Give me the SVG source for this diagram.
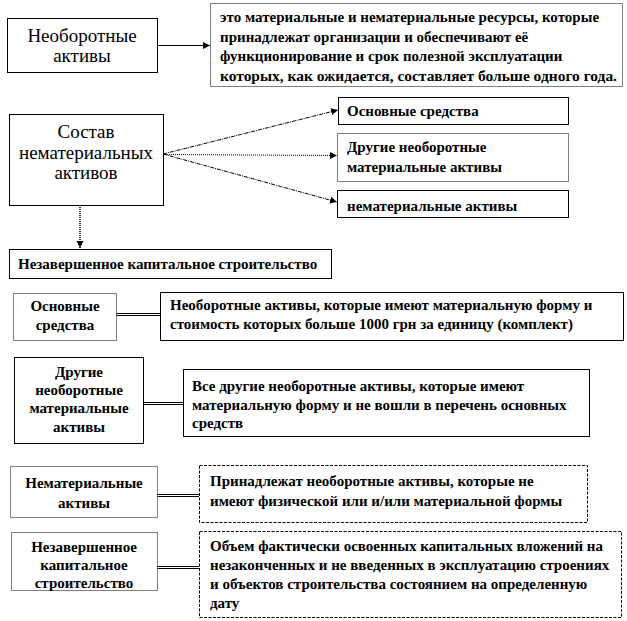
<svg xmlns="http://www.w3.org/2000/svg" width="627" height="621" viewBox="0 0 627 621">
<style>
.box{fill:#fff;stroke:#000;stroke-width:1}
.dot{stroke-dasharray:1,1}
.dash{stroke-dasharray:3,1.5}
.big{font-family:"Liberation Serif","Times New Roman","DejaVu Serif",serif;font-size:19px;fill:#000}
.t{font-family:"Liberation Serif","Times New Roman","DejaVu Serif",serif;font-size:15px;font-weight:bold;fill:#000}
.c{text-anchor:middle}
.ln{stroke:#000;stroke-width:1;fill:none}
.dbl{stroke:#000;stroke-width:3;fill:none}
.dblin{stroke:#fff;stroke-width:1;fill:none}
</style>
<defs>
<marker id="ah" markerWidth="8" markerHeight="8" refX="7" refY="4" orient="auto" markerUnits="userSpaceOnUse">
<path d="M0,0.5 L7,4 L0,7.5 Z" fill="#000"/>
</marker>
</defs>
<rect width="627" height="621" fill="#fff"/>

<g id="connectors">
<line class="ln" x1="157" y1="45.5" x2="210" y2="45.5" marker-end="url(#ah)"/>
<line class="ln" x1="163" y1="154" x2="338" y2="110" stroke-dasharray="4,1,1,1" marker-end="url(#ah)"/>
<line class="ln" x1="163" y1="154.5" x2="337" y2="155.5" stroke-dasharray="1,1" marker-end="url(#ah)"/>
<line class="ln" x1="163" y1="154" x2="337" y2="202" stroke-dasharray="4,1,1,1" marker-end="url(#ah)"/>
<line x1="80" y1="205" x2="80" y2="248" stroke="#333" stroke-width="2" stroke-dasharray="1,1" marker-end="url(#ah)"/>
<line class="dbl" x1="116" y1="314.5" x2="160" y2="314.5"/>
<line class="dblin" x1="116" y1="314.5" x2="160" y2="314.5"/>
<line class="dbl" x1="143" y1="403.5" x2="183" y2="403.5"/>
<line class="dblin" x1="143" y1="403.5" x2="183" y2="403.5"/>
<line class="dbl" x1="157" y1="495.5" x2="199" y2="495.5"/>
<line class="dblin" x1="157" y1="495.5" x2="199" y2="495.5"/>
<line class="dbl" x1="157" y1="567.5" x2="199" y2="567.5"/>
<line class="dblin" x1="157" y1="567.5" x2="199" y2="567.5"/>
</g>

<g id="n-neoborotnye">
<rect class="box" x="7.5" y="18.5" width="150" height="54"/>
<text class="big c" x="82" y="42">Необоротные</text>
<text class="big c" x="82" y="62">активы</text>
</g>

<g id="n-definition">
<rect class="box dot" x="210.5" y="3.5" width="412" height="83"/>
<text class="t" x="220" y="22">это материальные и нематериальные ресурсы, которые</text>
<text class="t" x="220" y="42">принадлежат организации и обеспечивают её</text>
<text class="t" x="220" y="61">функционирование и срок полезной эксплуатации</text>
<text class="t" x="220" y="81" textLength="397" lengthAdjust="spacingAndGlyphs">которых,  как ожидается,  составляет больше  одного года.</text>
</g>

<g id="n-sostav">
<rect class="box" x="9.5" y="114.5" width="154" height="91"/>
<text class="big c" x="86" y="138">Состав</text>
<text class="big c" x="86" y="159">нематериальных</text>
<text class="big c" x="86" y="179">активов</text>
</g>

<g id="n-osnovnye-top">
<rect class="box" x="338.5" y="97.5" width="230" height="27"/>
<text class="t" x="347" y="116">Основные средства</text>
</g>

<g id="n-drugie-top">
<rect class="box dot" x="337.5" y="133.5" width="231" height="48"/>
<text class="t" x="347" y="152">Другие необоротные</text>
<text class="t" x="347" y="172">материальные активы</text>
</g>

<g id="n-nemat-top">
<rect class="box" x="337.5" y="190.5" width="231" height="27"/>
<text class="t" x="347" y="211">нематериальные активы</text>
</g>

<g id="n-nezaversh-top">
<rect class="box" x="9.5" y="249.5" width="322" height="29"/>
<text class="t" x="18" y="269">Незавершенное капитальное строительство</text>
</g>

<g id="n-osnovnye">
<rect class="box dot" x="13.5" y="293.5" width="103" height="47"/>
<text class="t c" x="65" y="311">Основные</text>
<text class="t c" x="65" y="330">средства</text>
</g>

<g id="n-osnovnye-desc">
<rect class="box" x="160.5" y="292.5" width="463" height="48"/>
<text class="t" x="170" y="310">Необоротные активы, которые имеют материальную форму  и</text>
<text class="t" x="170" y="329">стоимость которых  больше  1000 грн за единицу (комплект)</text>
</g>

<g id="n-drugie">
<rect class="box" x="14.5" y="357.5" width="129" height="86"/>
<text class="t c" x="79" y="377">Другие</text>
<text class="t c" x="79" y="395">необоротные</text>
<text class="t c" x="79" y="413">материальные</text>
<text class="t c" x="79" y="432">активы</text>
</g>

<g id="n-drugie-desc">
<rect class="box" x="183.5" y="369.5" width="406" height="67"/>
<text class="t" x="192" y="391">Все другие необоротные активы, которые имеют</text>
<text class="t" x="192" y="410">материальную  форму и не вошли в перечень основных</text>
<text class="t" x="192" y="428">средств</text>
</g>

<g id="n-nemat">
<rect class="box dot" x="10.5" y="466.5" width="147" height="51"/>
<text class="t c" x="84" y="488">Нематериальные</text>
<text class="t c" x="84" y="508">активы</text>
</g>

<g id="n-nemat-desc">
<rect class="box dash" x="199.5" y="465.5" width="388" height="57"/>
<text class="t" x="210" y="486">Принадлежат необоротные активы, которые не</text>
<text class="t" x="210" y="506">имеют физической  или и/или материальной формы</text>
</g>

<g id="n-nezaversh">
<rect class="box dot" x="11.5" y="532.5" width="146" height="58"/>
<text class="t c" x="84" y="552">Незавершенное</text>
<text class="t c" x="84" y="570">капитальное</text>
<text class="t c" x="84" y="588">строительство</text>
</g>

<g id="n-nezaversh-desc">
<rect class="box dash" x="199.5" y="531.5" width="422" height="86"/>
<text class="t" x="210" y="551">Объем фактически  освоенных капитальных вложений на</text>
<text class="t" x="210" y="570">незаконченных и не введенных в  эксплуатацию строениях</text>
<text class="t" x="210" y="589">и объектов  строительства состоянием на определенную</text>
<text class="t" x="210" y="608">дату</text>
</g>
</svg>
